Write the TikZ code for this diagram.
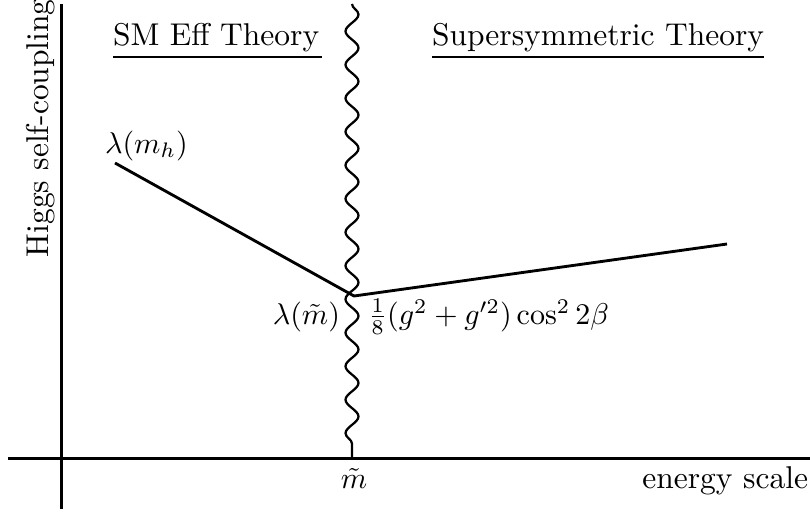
\documentclass[tikz,border=0pt]{standalone}
\usetikzlibrary{decorations.pathmorphing}
\begin{document}
\begin{tikzpicture}[x=0.3333pt,y=-0.3333pt,
  axisline/.style={line width=1pt},
  curveline/.style={line width=0.95pt},
  wavyline/.style={line width=0.75pt,decorate,decoration={snake,segment length=33.5*0.3333pt,amplitude=6.5*0.3333pt}},
  ulined/.style={line width=0.75pt},
  lbl/.style={inner sep=0pt,outer sep=0pt,font=\fontsize{10.5pt}{12.5pt}\selectfont},
  mlbl/.style={inner sep=0pt,outer sep=0pt,font=\fontsize{9.8pt}{12pt}\selectfont}]
\useasboundingbox (0,0) rectangle (810,512);
% axes
\coordinate (ytop) at (61,4);
\coordinate (ybot) at (61,509);
\coordinate (xl) at (8,458);
\coordinate (xr) at (810,458);
\draw[axisline] (ytop) -- (ybot);
\draw[axisline] (xl) -- (xr);
% wavy threshold
\coordinate (wtop) at (352,4);
\coordinate (wbot) at (352,457);
\draw[wavyline] (wtop) -- (wbot);
% coupling lines
\coordinate (p0) at (115,163);
\coordinate (pj) at (354,296);
\coordinate (p1) at (727,244);
\draw[curveline] (p0) -- (pj) -- (p1);
% labels
\node[lbl,anchor=base west,rotate=90] (ylab) at (48,257) {Higgs self-coupling};
\node[lbl,anchor=base west] (sm) at (113,46) {SM Eff Theory};
\node[lbl,anchor=base west] (susy) at (432,46) {Supersymmetric Theory};
\draw[ulined] ([yshift=-11*0.3333pt]sm.base west) -- ([yshift=-11*0.3333pt,xshift=3*0.3333pt]sm.base east);
\draw[ulined] ([yshift=-11*0.3333pt]susy.base west) -- ([yshift=-11*0.3333pt]susy.base east);
\node[mlbl,anchor=base west] (lmh) at (105,153) {$\lambda(m_h)$};
\node[mlbl,anchor=base east] (lmt) at (340,324) {$\lambda(\tilde m)$};
\node[mlbl,anchor=base west] (bound) at (368,324) {$\frac{1}{8}(g^2+g'^2)\cos^2 2\beta$};
\node[mlbl,anchor=base] (mt) at (354,488) {$\tilde m$};
\node[lbl,anchor=base east] (es) at (808,488) {energy scale};
\end{tikzpicture}
\end{document}
